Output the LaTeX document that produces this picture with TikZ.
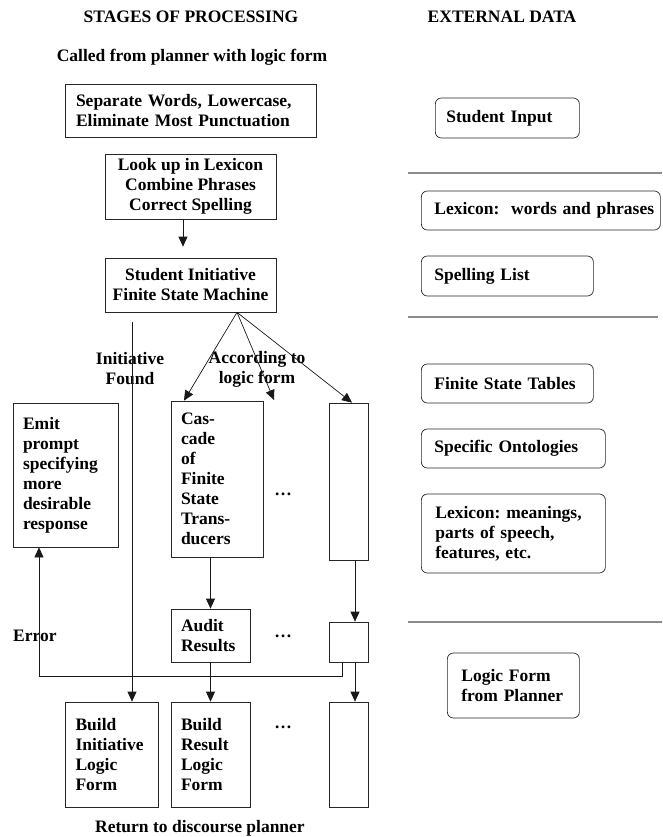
\documentclass[tikz,border=0pt]{standalone}
\usepackage{fontspec}
\setmainfont{Liberation Serif}
\usetikzlibrary{arrows.meta,positioning}
\frenchspacing

\begin{document}
\begin{tikzpicture}[
    x=1pt, y=-1pt,
    stage/.style={rectangle, draw=black!85, line width=0.7pt, inner ysep=0pt, minimum height=#1},
    stage/.default=40pt,
    datum/.style={rectangle, rounded corners=6pt, draw=black!85, line width=0.7pt, inner ysep=0pt, align=left, anchor=west},
    plain/.style={align=center, inner sep=0pt},
    arrow/.style={draw=black!90, line width=0.7pt, -{Triangle[length=10pt,width=9pt]}},
    rule/.style={draw=black!45, line width=1.2pt}
]

  \tikzset{
    font={\fontsize{17.5pt}{20pt}\selectfont\bfseries}
  }
\useasboundingbox (0,0) rectangle (662,837);

% Headings
\node[plain] (stages) at (191,17) {STAGES OF PROCESSING};
\node[plain] (external) at (502,17) {EXTERNAL DATA};
\node[plain] (called) at (192,57) {Called from planner with logic form};
\node[plain] (return) at (200,828) {Return to discourse planner};

% Stages
\node[stage=53pt, text width=229pt, inner xsep=11pt, align=left] (separate) at (190.5,110.5) {Separate Words, Lowercase,\\Eliminate Most Punctuation};
\node[stage=65pt, minimum width=171pt, align=center] (lookup) at (190.5,186.5) {Look up in Lexicon\\Combine Phrases\\Correct Spelling};
\node[stage=54pt, minimum width=171pt, align=center] (fsm) at (190.5,285) {Student Initiative\\Finite State Machine};
\node[stage=144pt, text width=85pt, inner xsep=10pt, align=left] (emit) at (65.5,475) {Emit\\prompt\\specifying\\more\\desirable\\response};
\node[stage=156pt, text width=72pt, inner xsep=10pt, align=left] (cascade) at (217,479) {Cas-\\cade\\of\\Finite\\State\\Trans-\\ducers};
\node[stage=157pt, minimum width=39pt] (other) at (348.5,481.5) {};
\node[stage=53pt, text width=59pt, inner xsep=10pt, align=left] (audit) at (210.5,635.5) {Audit\\Results};
\node[stage=40pt, minimum width=39pt] (otheraudit) at (348.5,642) {};
\node[stage=105pt, text width=72pt, inner xsep=10.5pt, align=left] (buildinit) at (111.5,754.5) {Build\\Initiative\\Logic\\Form};
\node[stage=105pt, text width=59pt, inner xsep=10pt, align=left] (buildresult) at (210.5,754.5) {Build\\Result\\Logic\\Form};
\node[stage=105pt, minimum width=39pt] (otherbuild) at (348.5,754.5) {};

% Labels
\node[plain] (found) at (130,369) {Initiative\\Found};
\node[plain] (according) at (257,369) {According to\\logic form};
\node[plain, anchor=west] (error) at (13,636) {Error};
\node[plain] (dotsa) at (283,494) {\dots};
\node[plain] (dotsb) at (283,636) {\dots};
\node[plain] (dotsc) at (283,727) {\dots};

% External data
\node[datum, minimum height=40pt, inner xsep=11pt, text width=122pt] (input) at (435,118) {Student Input};
\node[datum, minimum height=39pt, inner xsep=13pt, text width=213pt] (lexwords) at (421,210.5) {\mbox{Lexicon:\ \ words and phrases}};
\node[datum, minimum height=40pt, inner xsep=13pt, text width=146pt] (spelling) at (421,276) {Spelling List};
\node[datum, minimum height=39pt, inner xsep=13pt, text width=146pt] (tables) at (421,383.5) {Finite State Tables};
\node[datum, minimum height=39pt, inner xsep=13pt, text width=158pt] (ontologies) at (421,448.5) {Specific Ontologies};
\node[datum, minimum height=79pt, inner xsep=14pt, text width=156pt] (lexmeanings) at (421,533.5) {Lexicon: meanings,\\parts of speech,\\features, etc.};
\node[datum, minimum height=65pt, inner xsep=14pt, text width=104pt] (planner) at (447,685.5) {Logic Form\\from Planner};

% Rules
\coordinate (rulea) at (408,173);
\coordinate (ruleb) at (408,317);
\coordinate (rulec) at (408,622);
\draw[rule] (rulea) -- ++(254,0);
\draw[rule] (ruleb) -- ++(250,0);
\draw[rule] (rulec) -- ++(254,0);

% Lines
\coordinate (fan) at ([xshift=46.5]fsm.south);
\coordinate (initfork) at ([xshift=-58.5]fsm.south);
\coordinate (dotstop) at (274,400);
\draw[arrow, shorten >=11pt] ([xshift=-7.5]lookup.south) -- ([xshift=-7.5]fsm.north);
\draw[arrow] (fan) -- ([xshift=-33]cascade.north);
\draw[arrow] (fan) -- (dotstop);
\draw[arrow] (fan) -- ([xshift=3.5]other.north);
\draw[arrow, shorten <=10pt] (initfork) -- (initfork |- buildinit.north);
\draw[arrow] (cascade.south -| audit.north) -- (audit.north);
\draw[arrow] ([xshift=6.5]other.south) -- ([xshift=6.5]otheraudit.north);
\draw[arrow] (audit.south) -- (buildresult.north);
\draw[arrow] ([xshift=6.5]otheraudit.south) -- ([xshift=6.5]otherbuild.north);
\draw[arrow] ([xshift=-6.5]otheraudit.south) -- ++(0,14) -| ([xshift=-26.5]emit.south);

\end{tikzpicture}
\end{document}
